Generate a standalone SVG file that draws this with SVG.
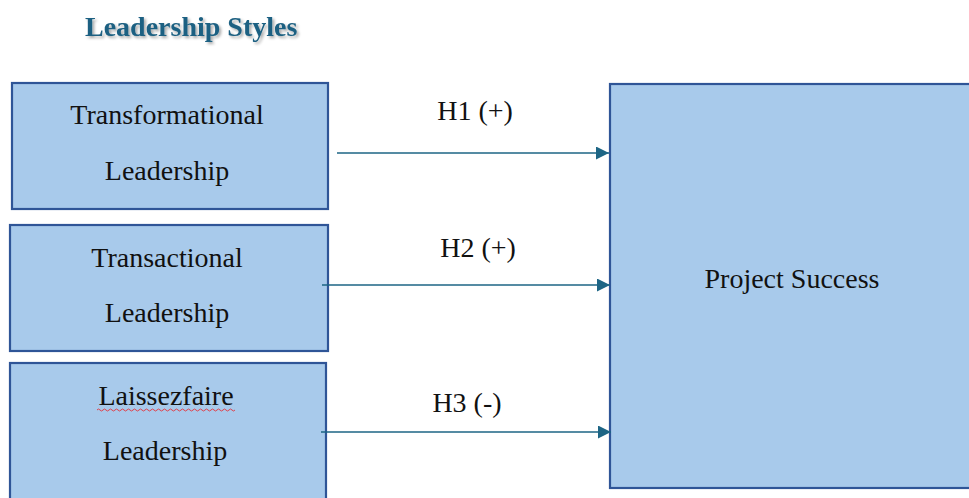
<svg xmlns="http://www.w3.org/2000/svg" width="969" height="498" viewBox="0 0 969 498">
<style>
.box{fill:#a8caeb;stroke:#2f5597;stroke-width:2.2}
.t{font-family:"Liberation Serif",serif;font-size:28px;fill:#111;text-anchor:middle}
.lbl{font-family:"Liberation Serif",serif;font-size:28px;fill:#111;text-anchor:middle}
.title{font-family:"Liberation Serif",serif;font-size:28px;font-weight:bold;fill:#1e6182}
.conn{stroke:#1d6585;stroke-width:1.6;fill:none}
</style>
<defs>
<marker id="ah" viewBox="0 0 10 10" refX="10" refY="5" markerWidth="14" markerHeight="13" markerUnits="userSpaceOnUse" orient="auto">
<path d="M0,0 L10,5 L0,10 Z" fill="#1d6585"/>
</marker>
<filter id="sh" x="-10%" y="-30%" width="120%" height="160%">
<feGaussianBlur in="SourceAlpha" stdDeviation="1.5"/>
<feOffset dx="1.5" dy="2" result="b"/>
<feComponentTransfer><feFuncA type="linear" slope="0.35"/></feComponentTransfer>
<feMerge><feMergeNode/><feMergeNode in="SourceGraphic"/></feMerge>
</filter>
</defs>
<rect width="969" height="498" fill="#fff"/>
<text id="title" class="title" x="85" y="36" filter="url(#sh)">Leadership Styles</text>
<g id="transformational">
<rect class="box" x="12" y="83" width="316" height="126"/>
<text class="t" x="167" y="124">Transformational</text>
<text class="t" x="167" y="180">Leadership</text>
</g>
<g id="transactional">
<rect class="box" x="10" y="225" width="318" height="126"/>
<text class="t" x="167" y="267">Transactional</text>
<text class="t" x="167" y="322">Leadership</text>
</g>
<g id="laissezfaire">
<rect class="box" x="10" y="363" width="316" height="140"/>
<text class="t" x="166" y="405">Laissezfaire</text>
<path d="M97,410 q1.5,-2 3,0 t3,0 t3,0 t3,0 t3,0 t3,0 t3,0 t3,0 t3,0 t3,0 t3,0 t3,0 t3,0 t3,0 t3,0 t3,0 t3,0 t3,0 t3,0 t3,0 t3,0 t3,0 t3,0 t3,0 t3,0 t3,0 t3,0 t3,0 t3,0 t3,0 t3,0 t3,0 t3,0 t3,0 t3,0 t3,0 t3,0 t3,0 t3,0 t3,0 t3,0 t3,0 t3,0 t3,0 t3,0 t3,0" fill="none" stroke="#e0404a" stroke-width="1"/>
<text class="t" x="165" y="460">Leadership</text>
</g>
<g id="project-success">
<rect class="box" x="610" y="84" width="364" height="404"/>
<text class="t" x="792" y="288">Project Success</text>
</g>
<g id="connectors">
<line class="conn" x1="337" y1="153" x2="609" y2="153" marker-end="url(#ah)"/>
<line class="conn" x1="322" y1="285" x2="610" y2="285" marker-end="url(#ah)"/>
<line class="conn" x1="321" y1="432" x2="611" y2="432" marker-end="url(#ah)"/>
<text class="lbl" x="475" y="120">H1 (+)</text>
<text class="lbl" x="478" y="257">H2 (+)</text>
<text class="lbl" x="467" y="412">H3 (-)</text>
</g>
</svg>
